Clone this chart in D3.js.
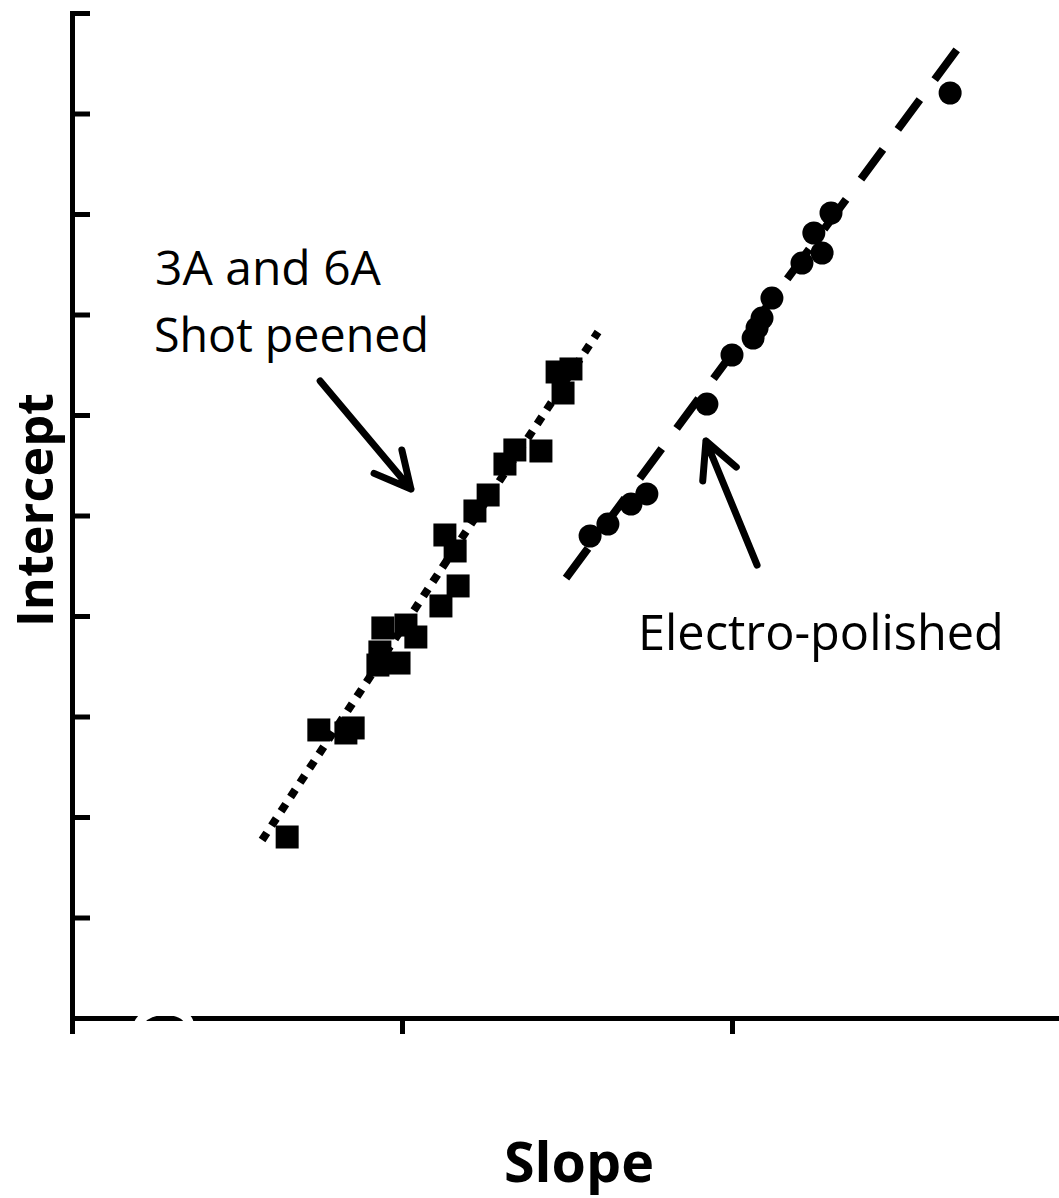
<!DOCTYPE html>
<html>
<head>
<meta charset="utf-8">
<script src="https://cdn.jsdelivr.net/npm/d3@7"></script>
<style>
  body { margin: 0; background: #fff; }
  svg { display: block; }
</style>
</head>
<body>
<div id="container"></div>
<script>
// tick positions (the original axes carry no labels)
let xTicks = [0, 1, 2, 3];
let yTicks = [0, 1, 2, 3, 4, 5, 6, 7, 8, 9, 10];

// 3A and 6A shot peened (squares)
let peenedSlope = [0.652, 0.748, 0.830, 0.852, 0.927, 0.933, 0.942, 0.991, 1.012, 1.042, 1.118,
  1.170, 1.130, 1.161, 1.221, 1.261, 1.312, 1.342, 1.421, 1.470, 1.512, 1.488];
let peenedIntercept = [1.801, 2.866, 2.836, 2.886, 3.512, 3.642, 3.881, 3.532, 3.910, 3.791, 4.100,
  4.299, 4.806, 4.647, 5.045, 5.204, 5.512, 5.652, 5.642, 6.428, 6.458, 6.219];

// electro-polished (circles)
let polishedSlope = [1.570, 1.624, 1.694, 1.742, 1.924, 2.000, 2.064, 2.076, 2.091, 2.121,
  2.212, 2.273, 2.248, 2.300, 2.661];
let polishedIntercept = [4.796, 4.915, 5.114, 5.214, 6.109, 6.597, 6.766, 6.866, 6.965, 7.164,
  7.512, 7.612, 7.811, 8.010, 9.204];

// trend lines (end points)
let peenedFitSlope = [0.576, 1.594];
let peenedFitIntercept = [1.771, 6.826];
let polishedFitSlope = [1.497, 2.685];
let polishedFitIntercept = [4.378, 9.652];

let w = 1059;
let h = 1198;

let viz = d3.select("#container")
  .append("svg")
    .attr("width", w)
    .attr("height", h)
;

let xScale = d3.scaleLinear().domain([0, 3]).range([72, 1062]);
let yScale = d3.scaleLinear().domain([0, 10]).range([1018, 13]);

// axes
let xAxisGroup = viz.append("g").attr("class", "xaxis");
let xAxis = d3.axisBottom(xScale).tickValues(xTicks).tickSize(16).tickSizeOuter(0).tickFormat("");
xAxisGroup.call(xAxis);
xAxisGroup.attr("transform", "translate(0, " + yScale(0) + ")");

let yAxisGroup = viz.append("g").attr("class", "yaxis");
let yAxis = d3.axisRight(yScale).tickValues(yTicks).tickSize(18).tickSizeOuter(18).tickFormat("");
yAxisGroup.call(yAxis);
yAxisGroup.attr("transform", "translate(" + xScale(0) + ", 0)");

viz.selectAll(".xaxis path, .xaxis line, .yaxis path, .yaxis line")
  .attr("stroke", "#000")
  .attr("stroke-width", 5)
;

// white remnant of a hidden label cutting into the x axis
viz.append("path")
  .attr("d", "M136,1032 C138,1012 160,1008 176,1012 C190,1016 192,1026 188,1034")
  .attr("fill", "none")
  .attr("stroke", "#fff")
  .attr("stroke-width", 9)
;

// trend lines
let fitLine = d3.line()
  .x(function(d){ return xScale(d[0]); })
  .y(function(d){ return yScale(d[1]); });

viz.append("path")
  .datum(d3.zip(peenedFitSlope, peenedFitIntercept))
  .attr("d", fitLine)
  .attr("fill", "none")
  .attr("stroke", "#000")
  .attr("stroke-width", 8)
  .attr("stroke-dasharray", "8.6 8.6")
;

viz.append("path")
  .datum(d3.zip(polishedFitSlope, polishedFitIntercept))
  .attr("d", fitLine)
  .attr("fill", "none")
  .attr("stroke", "#000")
  .attr("stroke-width", 8)
  .attr("stroke-dasharray", "37 25")
;

// points
let squareSymbol = d3.symbol().type(d3.symbolSquare).size(23 * 23);
let circleSymbol = d3.symbol().type(d3.symbolCircle).size(Math.PI * 11.5 * 11.5);

viz.append("g").attr("class", "peened")
  .selectAll("path")
  .data(d3.zip(peenedSlope, peenedIntercept))
  .enter()
  .append("path")
    .attr("d", squareSymbol)
    .attr("transform", function(d){ return "translate(" + xScale(d[0]) + ", " + yScale(d[1]) + ")"; })
    .attr("fill", "#000")
;

viz.append("g").attr("class", "polished")
  .selectAll("path")
  .data(d3.zip(polishedSlope, polishedIntercept))
  .enter()
  .append("path")
    .attr("d", circleSymbol)
    .attr("transform", function(d){ return "translate(" + xScale(d[0]) + ", " + yScale(d[1]) + ")"; })
    .attr("fill", "#000")
;

// arrows
function drawArrow(tail, tip) {
  let x1 = xScale(tail[0]), y1 = yScale(tail[1]);
  let x2 = xScale(tip[0]), y2 = yScale(tip[1]);
  let a = Math.atan2(y1 - y2, x1 - x2);
  let len = 40;
  let spread = 27 * Math.PI / 180;
  let p = d3.path();
  p.moveTo(x1, y1);
  p.lineTo(x2, y2);
  p.moveTo(x2 + len * Math.cos(a + spread), y2 + len * Math.sin(a + spread));
  p.lineTo(x2, y2);
  p.lineTo(x2 + len * Math.cos(a - spread), y2 + len * Math.sin(a - spread));
  viz.append("path")
    .attr("d", p.toString())
    .attr("fill", "none")
    .attr("stroke", "#000")
    .attr("stroke-width", 7)
    .attr("stroke-linecap", "round")
    .attr("stroke-linejoin", "round")
  ;
}
drawArrow([0.752, 6.338], [1.027, 5.264]);
drawArrow([2.076, 4.507], [1.921, 5.741]);

// text
function fitText(sel, target) {
  let len = sel.node().getComputedTextLength();
  let fs = parseFloat(sel.attr("font-size"));
  sel.attr("font-size", fs * target / len);
}

let t1 = viz.append("text")
  .text("3A and 6A")
  .attr("x", 155).attr("y", 285)
  .attr("font-family", "Open Sans")
  .attr("font-size", 46)
  .attr("fill", "#000");
fitText(t1, 226);

let t2 = viz.append("text")
  .text("Shot peened")
  .attr("x", 154).attr("y", 352)
  .attr("font-family", "Open Sans")
  .attr("font-size", 46)
  .attr("fill", "#000");
fitText(t2, 275);

let t3 = viz.append("text")
  .text("Electro-polished")
  .attr("x", 638).attr("y", 650)
  .attr("font-family", "Open Sans")
  .attr("font-size", 46)
  .attr("fill", "#000");
fitText(t3, 366);

let yTitle = viz.append("text")
  .text("Intercept")
  .attr("transform", "translate(53, 510) rotate(-90)")
  .attr("text-anchor", "middle")
  .attr("font-family", "Open Sans")
  .attr("font-weight", "bold")
  .attr("font-size", 50)
  .attr("fill", "#000");
fitText(yTitle, 234);

let xTitle = viz.append("text")
  .text("Slope")
  .attr("x", 579).attr("y", 1182)
  .attr("text-anchor", "middle")
  .attr("font-family", "Open Sans")
  .attr("font-weight", "bold")
  .attr("font-size", 54)
  .attr("fill", "#000");
fitText(xTitle, 150);
</script>
</body>
</html>
